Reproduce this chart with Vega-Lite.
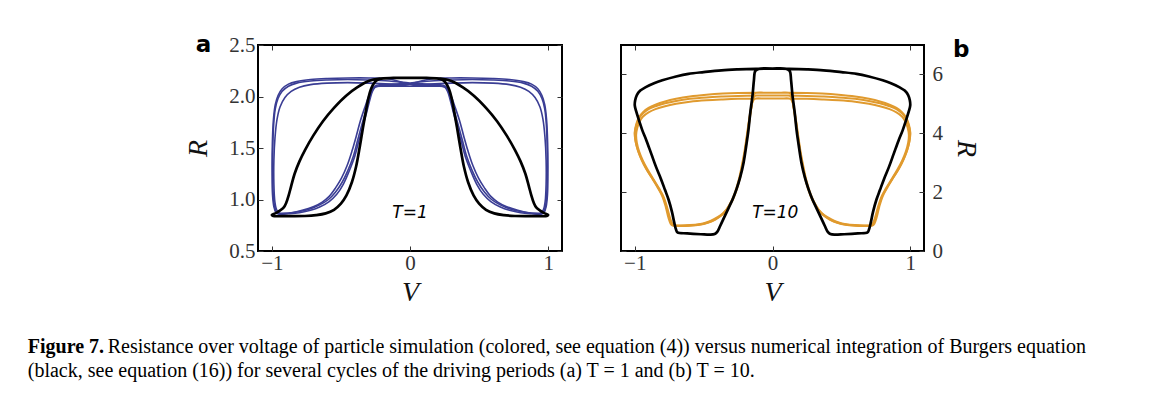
{
  "$schema": "https://vega.github.io/schema/vega-lite/v6.json",
  "background": "white",
  "padding": {"left": 27, "top": 33, "right": 5, "bottom": 5},
  "title": {
    "text": "Resistance over voltage of particle simulation (colored, see equation (4)) versus numerical integration of Burgers equation",
    "orient": "bottom", "anchor": "start", "frame": "bounds",
    "dx": 80, "offset": -44,
    "font": "Liberation Serif", "fontSize": 20, "fontWeight": "normal", "color": "black"
  },
  "datasets": {
    "a_sim": [
      {"c":1,"i":0,"V":0,"R":2.13},{"c":1,"i":1,"V":0.15,"R":2.15},{"c":1,"i":2,"V":0.3,"R":2.16},{"c":1,"i":3,"V":0.45,"R":2.165},{"c":1,"i":4,"V":0.6,"R":2.16},{"c":1,"i":5,"V":0.72,"R":2.15},{"c":1,"i":6,"V":0.82,"R":2.13},{"c":1,"i":7,"V":0.88,"R":2.10},{"c":1,"i":8,"V":0.925,"R":2.05},{"c":1,"i":9,"V":0.955,"R":1.98},{"c":1,"i":10,"V":0.975,"R":1.88},{"c":1,"i":11,"V":0.987,"R":1.72},{"c":1,"i":12,"V":0.993,"R":1.5},{"c":1,"i":13,"V":0.994,"R":1.25},{"c":1,"i":14,"V":0.99,"R":1.05},{"c":1,"i":15,"V":0.98,"R":0.93},{"c":1,"i":16,"V":0.965,"R":0.875},{"c":1,"i":17,"V":0.94,"R":0.862},{"c":1,"i":18,"V":0.88,"R":0.867},{"c":1,"i":19,"V":0.8,"R":0.883},{"c":1,"i":20,"V":0.72,"R":0.91},{"c":1,"i":21,"V":0.65,"R":0.95},{"c":1,"i":22,"V":0.59,"R":1.0},{"c":1,"i":23,"V":0.54,"R":1.07},{"c":1,"i":24,"V":0.49,"R":1.17},{"c":1,"i":25,"V":0.45,"R":1.28},{"c":1,"i":26,"V":0.41,"R":1.42},{"c":1,"i":27,"V":0.38,"R":1.57},{"c":1,"i":28,"V":0.35,"R":1.72},{"c":1,"i":29,"V":0.32,"R":1.86},{"c":1,"i":30,"V":0.295,"R":1.98},{"c":1,"i":31,"V":0.275,"R":2.06},{"c":1,"i":32,"V":0.255,"R":2.10},{"c":1,"i":33,"V":0.22,"R":2.115},{"c":1,"i":34,"V":0.12,"R":2.12},{"c":1,"i":35,"V":0,"R":2.13},
      {"c":1,"i":36,"V":-0.15,"R":2.15},{"c":1,"i":37,"V":-0.3,"R":2.16},{"c":1,"i":38,"V":-0.45,"R":2.165},{"c":1,"i":39,"V":-0.6,"R":2.16},{"c":1,"i":40,"V":-0.72,"R":2.15},{"c":1,"i":41,"V":-0.82,"R":2.13},{"c":1,"i":42,"V":-0.88,"R":2.10},{"c":1,"i":43,"V":-0.925,"R":2.05},{"c":1,"i":44,"V":-0.955,"R":1.98},{"c":1,"i":45,"V":-0.975,"R":1.88},{"c":1,"i":46,"V":-0.987,"R":1.72},{"c":1,"i":47,"V":-0.993,"R":1.5},{"c":1,"i":48,"V":-0.994,"R":1.25},{"c":1,"i":49,"V":-0.99,"R":1.05},{"c":1,"i":50,"V":-0.98,"R":0.93},{"c":1,"i":51,"V":-0.965,"R":0.875},{"c":1,"i":52,"V":-0.94,"R":0.862},{"c":1,"i":53,"V":-0.88,"R":0.867},{"c":1,"i":54,"V":-0.8,"R":0.883},{"c":1,"i":55,"V":-0.72,"R":0.91},{"c":1,"i":56,"V":-0.65,"R":0.95},{"c":1,"i":57,"V":-0.59,"R":1.0},{"c":1,"i":58,"V":-0.54,"R":1.07},{"c":1,"i":59,"V":-0.49,"R":1.17},{"c":1,"i":60,"V":-0.45,"R":1.28},{"c":1,"i":61,"V":-0.41,"R":1.42},{"c":1,"i":62,"V":-0.38,"R":1.57},{"c":1,"i":63,"V":-0.35,"R":1.72},{"c":1,"i":64,"V":-0.32,"R":1.86},{"c":1,"i":65,"V":-0.295,"R":1.98},{"c":1,"i":66,"V":-0.275,"R":2.06},{"c":1,"i":67,"V":-0.255,"R":2.10},{"c":1,"i":68,"V":-0.22,"R":2.115},{"c":1,"i":69,"V":-0.12,"R":2.12},{"c":1,"i":70,"V":0,"R":2.13},

      {"c":2,"i":0,"V":0,"R":2.12},{"c":2,"i":1,"V":0.15,"R":2.17},{"c":2,"i":2,"V":0.3,"R":2.18},{"c":2,"i":3,"V":0.45,"R":2.18},{"c":2,"i":4,"V":0.6,"R":2.175},{"c":2,"i":5,"V":0.72,"R":2.165},{"c":2,"i":6,"V":0.82,"R":2.145},{"c":2,"i":7,"V":0.88,"R":2.12},{"c":2,"i":8,"V":0.925,"R":2.075},{"c":2,"i":9,"V":0.955,"R":2.01},{"c":2,"i":10,"V":0.975,"R":1.92},{"c":2,"i":11,"V":0.988,"R":1.78},{"c":2,"i":12,"V":0.996,"R":1.55},{"c":2,"i":13,"V":0.998,"R":1.25},{"c":2,"i":14,"V":0.995,"R":1.05},{"c":2,"i":15,"V":0.985,"R":0.93},{"c":2,"i":16,"V":0.97,"R":0.872},{"c":2,"i":17,"V":0.95,"R":0.858},{"c":2,"i":18,"V":0.88,"R":0.862},{"c":2,"i":19,"V":0.8,"R":0.872},{"c":2,"i":20,"V":0.72,"R":0.895},{"c":2,"i":21,"V":0.65,"R":0.93},{"c":2,"i":22,"V":0.585,"R":0.98},{"c":2,"i":23,"V":0.53,"R":1.05},{"c":2,"i":24,"V":0.482,"R":1.15},{"c":2,"i":25,"V":0.442,"R":1.27},{"c":2,"i":26,"V":0.402,"R":1.41},{"c":2,"i":27,"V":0.372,"R":1.56},{"c":2,"i":28,"V":0.342,"R":1.71},{"c":2,"i":29,"V":0.313,"R":1.85},{"c":2,"i":30,"V":0.29,"R":1.97},{"c":2,"i":31,"V":0.272,"R":2.05},{"c":2,"i":32,"V":0.252,"R":2.09},{"c":2,"i":33,"V":0.22,"R":2.105},{"c":2,"i":34,"V":0.12,"R":2.11},{"c":2,"i":35,"V":0,"R":2.12},
      {"c":2,"i":36,"V":-0.15,"R":2.17},{"c":2,"i":37,"V":-0.3,"R":2.18},{"c":2,"i":38,"V":-0.45,"R":2.18},{"c":2,"i":39,"V":-0.6,"R":2.175},{"c":2,"i":40,"V":-0.72,"R":2.165},{"c":2,"i":41,"V":-0.82,"R":2.145},{"c":2,"i":42,"V":-0.88,"R":2.12},{"c":2,"i":43,"V":-0.925,"R":2.075},{"c":2,"i":44,"V":-0.955,"R":2.01},{"c":2,"i":45,"V":-0.975,"R":1.92},{"c":2,"i":46,"V":-0.988,"R":1.78},{"c":2,"i":47,"V":-0.996,"R":1.55},{"c":2,"i":48,"V":-0.998,"R":1.25},{"c":2,"i":49,"V":-0.995,"R":1.05},{"c":2,"i":50,"V":-0.985,"R":0.93},{"c":2,"i":51,"V":-0.97,"R":0.872},{"c":2,"i":52,"V":-0.95,"R":0.858},{"c":2,"i":53,"V":-0.88,"R":0.862},{"c":2,"i":54,"V":-0.8,"R":0.872},{"c":2,"i":55,"V":-0.72,"R":0.895},{"c":2,"i":56,"V":-0.65,"R":0.93},{"c":2,"i":57,"V":-0.585,"R":0.98},{"c":2,"i":58,"V":-0.53,"R":1.05},{"c":2,"i":59,"V":-0.482,"R":1.15},{"c":2,"i":60,"V":-0.442,"R":1.27},{"c":2,"i":61,"V":-0.402,"R":1.41},{"c":2,"i":62,"V":-0.372,"R":1.56},{"c":2,"i":63,"V":-0.342,"R":1.71},{"c":2,"i":64,"V":-0.313,"R":1.85},{"c":2,"i":65,"V":-0.29,"R":1.97},{"c":2,"i":66,"V":-0.272,"R":2.05},{"c":2,"i":67,"V":-0.252,"R":2.09},{"c":2,"i":68,"V":-0.22,"R":2.105},{"c":2,"i":69,"V":-0.12,"R":2.11},{"c":2,"i":70,"V":0,"R":2.12},

      {"c":3,"i":0,"V":0,"R":2.1},{"c":3,"i":1,"V":0.15,"R":2.12},{"c":3,"i":2,"V":0.3,"R":2.13},{"c":3,"i":3,"V":0.45,"R":2.135},{"c":3,"i":4,"V":0.6,"R":2.13},{"c":3,"i":5,"V":0.72,"R":2.115},{"c":3,"i":6,"V":0.8,"R":2.09},{"c":3,"i":7,"V":0.86,"R":2.05},{"c":3,"i":8,"V":0.905,"R":1.99},{"c":3,"i":9,"V":0.94,"R":1.9},{"c":3,"i":10,"V":0.962,"R":1.78},{"c":3,"i":11,"V":0.977,"R":1.6},{"c":3,"i":12,"V":0.985,"R":1.38},{"c":3,"i":13,"V":0.985,"R":1.15},{"c":3,"i":14,"V":0.978,"R":0.98},{"c":3,"i":15,"V":0.965,"R":0.9},{"c":3,"i":16,"V":0.945,"R":0.87},{"c":3,"i":17,"V":0.92,"R":0.865},{"c":3,"i":18,"V":0.86,"R":0.872},{"c":3,"i":19,"V":0.78,"R":0.895},{"c":3,"i":20,"V":0.7,"R":0.93},{"c":3,"i":21,"V":0.635,"R":0.975},{"c":3,"i":22,"V":0.585,"R":1.03},{"c":3,"i":23,"V":0.54,"R":1.11},{"c":3,"i":24,"V":0.495,"R":1.21},{"c":3,"i":25,"V":0.455,"R":1.33},{"c":3,"i":26,"V":0.42,"R":1.47},{"c":3,"i":27,"V":0.39,"R":1.61},{"c":3,"i":28,"V":0.36,"R":1.76},{"c":3,"i":29,"V":0.328,"R":1.89},{"c":3,"i":30,"V":0.302,"R":1.99},{"c":3,"i":31,"V":0.28,"R":2.06},{"c":3,"i":32,"V":0.258,"R":2.09},{"c":3,"i":33,"V":0.2,"R":2.1},{"c":3,"i":34,"V":0.1,"R":2.1},{"c":3,"i":35,"V":0,"R":2.1},
      {"c":3,"i":36,"V":-0.15,"R":2.12},{"c":3,"i":37,"V":-0.3,"R":2.13},{"c":3,"i":38,"V":-0.45,"R":2.135},{"c":3,"i":39,"V":-0.6,"R":2.13},{"c":3,"i":40,"V":-0.72,"R":2.115},{"c":3,"i":41,"V":-0.8,"R":2.09},{"c":3,"i":42,"V":-0.86,"R":2.05},{"c":3,"i":43,"V":-0.905,"R":1.99},{"c":3,"i":44,"V":-0.94,"R":1.9},{"c":3,"i":45,"V":-0.962,"R":1.78},{"c":3,"i":46,"V":-0.977,"R":1.6},{"c":3,"i":47,"V":-0.985,"R":1.38},{"c":3,"i":48,"V":-0.985,"R":1.15},{"c":3,"i":49,"V":-0.978,"R":0.98},{"c":3,"i":50,"V":-0.965,"R":0.9},{"c":3,"i":51,"V":-0.945,"R":0.87},{"c":3,"i":52,"V":-0.92,"R":0.865},{"c":3,"i":53,"V":-0.86,"R":0.872},{"c":3,"i":54,"V":-0.78,"R":0.895},{"c":3,"i":55,"V":-0.7,"R":0.93},{"c":3,"i":56,"V":-0.635,"R":0.975},{"c":3,"i":57,"V":-0.585,"R":1.03},{"c":3,"i":58,"V":-0.54,"R":1.11},{"c":3,"i":59,"V":-0.495,"R":1.21},{"c":3,"i":60,"V":-0.455,"R":1.33},{"c":3,"i":61,"V":-0.42,"R":1.47},{"c":3,"i":62,"V":-0.39,"R":1.61},{"c":3,"i":63,"V":-0.36,"R":1.76},{"c":3,"i":64,"V":-0.328,"R":1.89},{"c":3,"i":65,"V":-0.302,"R":1.99},{"c":3,"i":66,"V":-0.28,"R":2.06},{"c":3,"i":67,"V":-0.258,"R":2.09},{"c":3,"i":68,"V":-0.2,"R":2.1},{"c":3,"i":69,"V":-0.1,"R":2.1},{"c":3,"i":70,"V":0,"R":2.1}
    ],
    "a_burg": [
      {"i":0,"V":0,"R":2.18},{"i":1,"V":0.12,"R":2.18},{"i":2,"V":0.22,"R":2.175},{"i":3,"V":0.3,"R":2.15},{"i":4,"V":0.38,"R":2.09},{"i":5,"V":0.46,"R":2.01},{"i":6,"V":0.55,"R":1.89},{"i":7,"V":0.63,"R":1.76},{"i":8,"V":0.7,"R":1.62},{"i":9,"V":0.76,"R":1.48},{"i":10,"V":0.8,"R":1.37},{"i":11,"V":0.835,"R":1.25},{"i":12,"V":0.86,"R":1.13},{"i":13,"V":0.878,"R":1.04},{"i":14,"V":0.895,"R":0.97},{"i":15,"V":0.915,"R":0.92},{"i":16,"V":0.945,"R":0.89},{"i":17,"V":0.975,"R":0.865},{"i":18,"V":1.0,"R":0.85},{"i":19,"V":0.99,"R":0.84},{"i":20,"V":0.93,"R":0.838},{"i":21,"V":0.85,"R":0.838},{"i":22,"V":0.76,"R":0.84},{"i":23,"V":0.68,"R":0.848},{"i":24,"V":0.61,"R":0.865},{"i":25,"V":0.55,"R":0.9},{"i":26,"V":0.5,"R":0.96},{"i":27,"V":0.46,"R":1.04},{"i":28,"V":0.42,"R":1.17},{"i":29,"V":0.39,"R":1.32},{"i":30,"V":0.365,"R":1.5},{"i":31,"V":0.34,"R":1.7},{"i":32,"V":0.32,"R":1.85},{"i":33,"V":0.3,"R":1.99},{"i":34,"V":0.28,"R":2.08},{"i":35,"V":0.255,"R":2.14},{"i":36,"V":0.22,"R":2.17},{"i":37,"V":0.12,"R":2.18},{"i":38,"V":0,"R":2.18},
      {"i":39,"V":-0.12,"R":2.18},{"i":40,"V":-0.22,"R":2.175},{"i":41,"V":-0.3,"R":2.15},{"i":42,"V":-0.38,"R":2.09},{"i":43,"V":-0.46,"R":2.01},{"i":44,"V":-0.55,"R":1.89},{"i":45,"V":-0.63,"R":1.76},{"i":46,"V":-0.7,"R":1.62},{"i":47,"V":-0.76,"R":1.48},{"i":48,"V":-0.8,"R":1.37},{"i":49,"V":-0.835,"R":1.25},{"i":50,"V":-0.86,"R":1.13},{"i":51,"V":-0.878,"R":1.04},{"i":52,"V":-0.895,"R":0.97},{"i":53,"V":-0.915,"R":0.92},{"i":54,"V":-0.945,"R":0.89},{"i":55,"V":-0.975,"R":0.865},{"i":56,"V":-1.0,"R":0.85},{"i":57,"V":-0.99,"R":0.84},{"i":58,"V":-0.93,"R":0.838},{"i":59,"V":-0.85,"R":0.838},{"i":60,"V":-0.76,"R":0.84},{"i":61,"V":-0.68,"R":0.848},{"i":62,"V":-0.61,"R":0.865},{"i":63,"V":-0.55,"R":0.9},{"i":64,"V":-0.5,"R":0.96},{"i":65,"V":-0.46,"R":1.04},{"i":66,"V":-0.42,"R":1.17},{"i":67,"V":-0.39,"R":1.32},{"i":68,"V":-0.365,"R":1.5},{"i":69,"V":-0.34,"R":1.7},{"i":70,"V":-0.32,"R":1.85},{"i":71,"V":-0.3,"R":1.99},{"i":72,"V":-0.28,"R":2.08},{"i":73,"V":-0.255,"R":2.14},{"i":74,"V":-0.22,"R":2.17},{"i":75,"V":-0.12,"R":2.18},{"i":76,"V":0,"R":2.18}
    ],
    "b_sim": [
      {"c":1,"i":0,"V":0,"R":5.28},{"c":1,"i":1,"V":0.12,"R":5.28},{"c":1,"i":2,"V":0.25,"R":5.27},{"c":1,"i":3,"V":0.36,"R":5.25},{"c":1,"i":4,"V":0.48,"R":5.22},{"c":1,"i":5,"V":0.6,"R":5.17},{"c":1,"i":6,"V":0.7,"R":5.1},{"c":1,"i":7,"V":0.78,"R":5.02},{"c":1,"i":8,"V":0.85,"R":4.92},{"c":1,"i":9,"V":0.9,"R":4.82},{"c":1,"i":10,"V":0.94,"R":4.68},{"c":1,"i":11,"V":0.97,"R":4.5},{"c":1,"i":12,"V":0.99,"R":4.25},{"c":1,"i":13,"V":1.0,"R":4.0},{"c":1,"i":14,"V":0.993,"R":3.7},{"c":1,"i":15,"V":0.975,"R":3.4},{"c":1,"i":16,"V":0.95,"R":3.1},{"c":1,"i":17,"V":0.915,"R":2.78},{"c":1,"i":18,"V":0.87,"R":2.45},{"c":1,"i":19,"V":0.83,"R":2.15},{"c":1,"i":20,"V":0.795,"R":1.85},{"c":1,"i":21,"V":0.77,"R":1.5},{"c":1,"i":22,"V":0.75,"R":1.15},{"c":1,"i":23,"V":0.735,"R":0.95},{"c":1,"i":24,"V":0.72,"R":0.87},{"c":1,"i":25,"V":0.68,"R":0.86},{"c":1,"i":26,"V":0.6,"R":0.87},{"c":1,"i":27,"V":0.53,"R":0.9},{"c":1,"i":28,"V":0.47,"R":0.97},{"c":1,"i":29,"V":0.42,"R":1.07},{"c":1,"i":30,"V":0.37,"R":1.22},{"c":1,"i":31,"V":0.33,"R":1.42},{"c":1,"i":32,"V":0.295,"R":1.7},{"c":1,"i":33,"V":0.265,"R":2.05},{"c":1,"i":34,"V":0.24,"R":2.45},{"c":1,"i":35,"V":0.22,"R":2.9},{"c":1,"i":36,"V":0.2,"R":3.4},{"c":1,"i":37,"V":0.185,"R":3.9},{"c":1,"i":38,"V":0.17,"R":4.4},{"c":1,"i":39,"V":0.155,"R":4.85},{"c":1,"i":40,"V":0.142,"R":5.15},{"c":1,"i":41,"V":0.128,"R":5.27},{"c":1,"i":42,"V":0.06,"R":5.28},{"c":1,"i":43,"V":0,"R":5.28},
      {"c":1,"i":44,"V":-0.12,"R":5.28},{"c":1,"i":45,"V":-0.25,"R":5.27},{"c":1,"i":46,"V":-0.36,"R":5.25},{"c":1,"i":47,"V":-0.48,"R":5.22},{"c":1,"i":48,"V":-0.6,"R":5.17},{"c":1,"i":49,"V":-0.7,"R":5.1},{"c":1,"i":50,"V":-0.78,"R":5.02},{"c":1,"i":51,"V":-0.85,"R":4.92},{"c":1,"i":52,"V":-0.9,"R":4.82},{"c":1,"i":53,"V":-0.94,"R":4.68},{"c":1,"i":54,"V":-0.97,"R":4.5},{"c":1,"i":55,"V":-0.99,"R":4.25},{"c":1,"i":56,"V":-1.0,"R":4.0},{"c":1,"i":57,"V":-0.993,"R":3.7},{"c":1,"i":58,"V":-0.975,"R":3.4},{"c":1,"i":59,"V":-0.95,"R":3.1},{"c":1,"i":60,"V":-0.915,"R":2.78},{"c":1,"i":61,"V":-0.87,"R":2.45},{"c":1,"i":62,"V":-0.83,"R":2.15},{"c":1,"i":63,"V":-0.795,"R":1.85},{"c":1,"i":64,"V":-0.77,"R":1.5},{"c":1,"i":65,"V":-0.75,"R":1.15},{"c":1,"i":66,"V":-0.735,"R":0.95},{"c":1,"i":67,"V":-0.72,"R":0.87},{"c":1,"i":68,"V":-0.68,"R":0.86},{"c":1,"i":69,"V":-0.6,"R":0.87},{"c":1,"i":70,"V":-0.53,"R":0.9},{"c":1,"i":71,"V":-0.47,"R":0.97},{"c":1,"i":72,"V":-0.42,"R":1.07},{"c":1,"i":73,"V":-0.37,"R":1.22},{"c":1,"i":74,"V":-0.33,"R":1.42},{"c":1,"i":75,"V":-0.295,"R":1.7},{"c":1,"i":76,"V":-0.265,"R":2.05},{"c":1,"i":77,"V":-0.24,"R":2.45},{"c":1,"i":78,"V":-0.22,"R":2.9},{"c":1,"i":79,"V":-0.2,"R":3.4},{"c":1,"i":80,"V":-0.185,"R":3.9},{"c":1,"i":81,"V":-0.17,"R":4.4},{"c":1,"i":82,"V":-0.155,"R":4.85},{"c":1,"i":83,"V":-0.142,"R":5.15},{"c":1,"i":84,"V":-0.128,"R":5.27},{"c":1,"i":85,"V":-0.06,"R":5.28},{"c":1,"i":86,"V":0,"R":5.28},

      {"c":2,"i":0,"V":0,"R":5.38},{"c":2,"i":1,"V":0.12,"R":5.38},{"c":2,"i":2,"V":0.25,"R":5.37},{"c":2,"i":3,"V":0.36,"R":5.35},{"c":2,"i":4,"V":0.48,"R":5.31},{"c":2,"i":5,"V":0.6,"R":5.25},{"c":2,"i":6,"V":0.7,"R":5.17},{"c":2,"i":7,"V":0.78,"R":5.08},{"c":2,"i":8,"V":0.85,"R":4.97},{"c":2,"i":9,"V":0.9,"R":4.86},{"c":2,"i":10,"V":0.94,"R":4.72},{"c":2,"i":11,"V":0.97,"R":4.54},{"c":2,"i":12,"V":0.99,"R":4.3},{"c":2,"i":13,"V":1.0,"R":4.05},{"c":2,"i":14,"V":0.995,"R":3.75},{"c":2,"i":15,"V":0.98,"R":3.45},{"c":2,"i":16,"V":0.955,"R":3.15},{"c":2,"i":17,"V":0.92,"R":2.82},{"c":2,"i":18,"V":0.875,"R":2.48},{"c":2,"i":19,"V":0.835,"R":2.17},{"c":2,"i":20,"V":0.8,"R":1.86},{"c":2,"i":21,"V":0.775,"R":1.5},{"c":2,"i":22,"V":0.755,"R":1.12},{"c":2,"i":23,"V":0.74,"R":0.93},{"c":2,"i":24,"V":0.725,"R":0.86},{"c":2,"i":25,"V":0.68,"R":0.85},{"c":2,"i":26,"V":0.6,"R":0.86},{"c":2,"i":27,"V":0.53,"R":0.89},{"c":2,"i":28,"V":0.47,"R":0.96},{"c":2,"i":29,"V":0.415,"R":1.07},{"c":2,"i":30,"V":0.365,"R":1.23},{"c":2,"i":31,"V":0.325,"R":1.44},{"c":2,"i":32,"V":0.29,"R":1.72},{"c":2,"i":33,"V":0.26,"R":2.08},{"c":2,"i":34,"V":0.236,"R":2.48},{"c":2,"i":35,"V":0.216,"R":2.93},{"c":2,"i":36,"V":0.197,"R":3.43},{"c":2,"i":37,"V":0.182,"R":3.93},{"c":2,"i":38,"V":0.167,"R":4.43},{"c":2,"i":39,"V":0.152,"R":4.9},{"c":2,"i":40,"V":0.14,"R":5.22},{"c":2,"i":41,"V":0.128,"R":5.36},{"c":2,"i":42,"V":0.06,"R":5.38},{"c":2,"i":43,"V":0,"R":5.38},
      {"c":2,"i":44,"V":-0.12,"R":5.38},{"c":2,"i":45,"V":-0.25,"R":5.37},{"c":2,"i":46,"V":-0.36,"R":5.35},{"c":2,"i":47,"V":-0.48,"R":5.31},{"c":2,"i":48,"V":-0.6,"R":5.25},{"c":2,"i":49,"V":-0.7,"R":5.17},{"c":2,"i":50,"V":-0.78,"R":5.08},{"c":2,"i":51,"V":-0.85,"R":4.97},{"c":2,"i":52,"V":-0.9,"R":4.86},{"c":2,"i":53,"V":-0.94,"R":4.72},{"c":2,"i":54,"V":-0.97,"R":4.54},{"c":2,"i":55,"V":-0.99,"R":4.3},{"c":2,"i":56,"V":-1.0,"R":4.05},{"c":2,"i":57,"V":-0.995,"R":3.75},{"c":2,"i":58,"V":-0.98,"R":3.45},{"c":2,"i":59,"V":-0.955,"R":3.15},{"c":2,"i":60,"V":-0.92,"R":2.82},{"c":2,"i":61,"V":-0.875,"R":2.48},{"c":2,"i":62,"V":-0.835,"R":2.17},{"c":2,"i":63,"V":-0.8,"R":1.86},{"c":2,"i":64,"V":-0.775,"R":1.5},{"c":2,"i":65,"V":-0.755,"R":1.12},{"c":2,"i":66,"V":-0.74,"R":0.93},{"c":2,"i":67,"V":-0.725,"R":0.86},{"c":2,"i":68,"V":-0.68,"R":0.85},{"c":2,"i":69,"V":-0.6,"R":0.86},{"c":2,"i":70,"V":-0.53,"R":0.89},{"c":2,"i":71,"V":-0.47,"R":0.96},{"c":2,"i":72,"V":-0.415,"R":1.07},{"c":2,"i":73,"V":-0.365,"R":1.23},{"c":2,"i":74,"V":-0.325,"R":1.44},{"c":2,"i":75,"V":-0.29,"R":1.72},{"c":2,"i":76,"V":-0.26,"R":2.08},{"c":2,"i":77,"V":-0.236,"R":2.48},{"c":2,"i":78,"V":-0.216,"R":2.93},{"c":2,"i":79,"V":-0.197,"R":3.43},{"c":2,"i":80,"V":-0.182,"R":3.93},{"c":2,"i":81,"V":-0.167,"R":4.43},{"c":2,"i":82,"V":-0.152,"R":4.9},{"c":2,"i":83,"V":-0.14,"R":5.22},{"c":2,"i":84,"V":-0.128,"R":5.36},{"c":2,"i":85,"V":-0.06,"R":5.38},{"c":2,"i":86,"V":0,"R":5.38},

      {"c":3,"i":0,"V":0,"R":5.18},{"c":3,"i":1,"V":0.12,"R":5.18},{"c":3,"i":2,"V":0.25,"R":5.17},{"c":3,"i":3,"V":0.36,"R":5.15},{"c":3,"i":4,"V":0.48,"R":5.12},{"c":3,"i":5,"V":0.6,"R":5.07},{"c":3,"i":6,"V":0.7,"R":5.0},{"c":3,"i":7,"V":0.78,"R":4.92},{"c":3,"i":8,"V":0.85,"R":4.82},{"c":3,"i":9,"V":0.9,"R":4.71},{"c":3,"i":10,"V":0.94,"R":4.57},{"c":3,"i":11,"V":0.965,"R":4.4},{"c":3,"i":12,"V":0.982,"R":4.18},{"c":3,"i":13,"V":0.99,"R":3.95},{"c":3,"i":14,"V":0.985,"R":3.68},{"c":3,"i":15,"V":0.968,"R":3.38},{"c":3,"i":16,"V":0.942,"R":3.08},{"c":3,"i":17,"V":0.905,"R":2.75},{"c":3,"i":18,"V":0.862,"R":2.42},{"c":3,"i":19,"V":0.823,"R":2.12},{"c":3,"i":20,"V":0.79,"R":1.83},{"c":3,"i":21,"V":0.765,"R":1.48},{"c":3,"i":22,"V":0.745,"R":1.14},{"c":3,"i":23,"V":0.73,"R":0.95},{"c":3,"i":24,"V":0.715,"R":0.88},{"c":3,"i":25,"V":0.675,"R":0.87},{"c":3,"i":26,"V":0.6,"R":0.88},{"c":3,"i":27,"V":0.535,"R":0.91},{"c":3,"i":28,"V":0.475,"R":0.98},{"c":3,"i":29,"V":0.425,"R":1.08},{"c":3,"i":30,"V":0.375,"R":1.22},{"c":3,"i":31,"V":0.335,"R":1.41},{"c":3,"i":32,"V":0.3,"R":1.68},{"c":3,"i":33,"V":0.27,"R":2.02},{"c":3,"i":34,"V":0.245,"R":2.42},{"c":3,"i":35,"V":0.224,"R":2.87},{"c":3,"i":36,"V":0.204,"R":3.37},{"c":3,"i":37,"V":0.188,"R":3.87},{"c":3,"i":38,"V":0.173,"R":4.37},{"c":3,"i":39,"V":0.158,"R":4.8},{"c":3,"i":40,"V":0.145,"R":5.07},{"c":3,"i":41,"V":0.13,"R":5.17},{"c":3,"i":42,"V":0.06,"R":5.18},{"c":3,"i":43,"V":0,"R":5.18},
      {"c":3,"i":44,"V":-0.12,"R":5.18},{"c":3,"i":45,"V":-0.25,"R":5.17},{"c":3,"i":46,"V":-0.36,"R":5.15},{"c":3,"i":47,"V":-0.48,"R":5.12},{"c":3,"i":48,"V":-0.6,"R":5.07},{"c":3,"i":49,"V":-0.7,"R":5.0},{"c":3,"i":50,"V":-0.78,"R":4.92},{"c":3,"i":51,"V":-0.85,"R":4.82},{"c":3,"i":52,"V":-0.9,"R":4.71},{"c":3,"i":53,"V":-0.94,"R":4.57},{"c":3,"i":54,"V":-0.965,"R":4.4},{"c":3,"i":55,"V":-0.982,"R":4.18},{"c":3,"i":56,"V":-0.99,"R":3.95},{"c":3,"i":57,"V":-0.985,"R":3.68},{"c":3,"i":58,"V":-0.968,"R":3.38},{"c":3,"i":59,"V":-0.942,"R":3.08},{"c":3,"i":60,"V":-0.905,"R":2.75},{"c":3,"i":61,"V":-0.862,"R":2.42},{"c":3,"i":62,"V":-0.823,"R":2.12},{"c":3,"i":63,"V":-0.79,"R":1.83},{"c":3,"i":64,"V":-0.765,"R":1.48},{"c":3,"i":65,"V":-0.745,"R":1.14},{"c":3,"i":66,"V":-0.73,"R":0.95},{"c":3,"i":67,"V":-0.715,"R":0.88},{"c":3,"i":68,"V":-0.675,"R":0.87},{"c":3,"i":69,"V":-0.6,"R":0.88},{"c":3,"i":70,"V":-0.535,"R":0.91},{"c":3,"i":71,"V":-0.475,"R":0.98},{"c":3,"i":72,"V":-0.425,"R":1.08},{"c":3,"i":73,"V":-0.375,"R":1.22},{"c":3,"i":74,"V":-0.335,"R":1.41},{"c":3,"i":75,"V":-0.3,"R":1.68},{"c":3,"i":76,"V":-0.27,"R":2.02},{"c":3,"i":77,"V":-0.245,"R":2.42},{"c":3,"i":78,"V":-0.224,"R":2.87},{"c":3,"i":79,"V":-0.204,"R":3.37},{"c":3,"i":80,"V":-0.188,"R":3.87},{"c":3,"i":81,"V":-0.173,"R":4.37},{"c":3,"i":82,"V":-0.158,"R":4.8},{"c":3,"i":83,"V":-0.145,"R":5.07},{"c":3,"i":84,"V":-0.13,"R":5.17},{"c":3,"i":85,"V":-0.06,"R":5.18},{"c":3,"i":86,"V":0,"R":5.18}
    ],
    "b_burg": [
      {"i":0,"V":0,"R":6.2},{"i":1,"V":0.12,"R":6.19},{"i":2,"V":0.25,"R":6.17},{"i":3,"V":0.37,"R":6.14},{"i":4,"V":0.5,"R":6.08},{"i":5,"V":0.61,"R":6.02},{"i":6,"V":0.7,"R":5.93},{"i":7,"V":0.8,"R":5.8},{"i":8,"V":0.86,"R":5.7},{"i":9,"V":0.92,"R":5.57},{"i":10,"V":0.96,"R":5.45},{"i":11,"V":0.985,"R":5.3},{"i":12,"V":0.997,"R":5.12},{"i":13,"V":1.0,"R":4.95},{"i":14,"V":0.99,"R":4.75},{"i":15,"V":0.97,"R":4.45},{"i":16,"V":0.945,"R":4.1},{"i":17,"V":0.915,"R":3.75},{"i":18,"V":0.88,"R":3.3},{"i":19,"V":0.845,"R":2.85},{"i":20,"V":0.81,"R":2.45},{"i":21,"V":0.78,"R":2.07},{"i":22,"V":0.755,"R":1.75},{"i":23,"V":0.73,"R":1.33},{"i":24,"V":0.715,"R":1.0},{"i":25,"V":0.7,"R":0.72},{"i":26,"V":0.69,"R":0.63},{"i":27,"V":0.62,"R":0.6},{"i":28,"V":0.52,"R":0.57},{"i":29,"V":0.45,"R":0.555},{"i":30,"V":0.42,"R":0.58},{"i":31,"V":0.4,"R":0.66},{"i":32,"V":0.38,"R":0.85},{"i":33,"V":0.35,"R":1.15},{"i":34,"V":0.32,"R":1.45},{"i":35,"V":0.29,"R":1.75},{"i":36,"V":0.26,"R":2.12},{"i":37,"V":0.235,"R":2.5},{"i":38,"V":0.21,"R":3.0},{"i":39,"V":0.19,"R":3.6},{"i":40,"V":0.175,"R":4.1},{"i":41,"V":0.16,"R":4.75},{"i":42,"V":0.145,"R":5.29},{"i":43,"V":0.135,"R":5.8},{"i":44,"V":0.125,"R":6.12},{"i":45,"V":0.1,"R":6.19},{"i":46,"V":0,"R":6.2},
      {"i":47,"V":-0.12,"R":6.19},{"i":48,"V":-0.25,"R":6.17},{"i":49,"V":-0.37,"R":6.14},{"i":50,"V":-0.5,"R":6.08},{"i":51,"V":-0.61,"R":6.02},{"i":52,"V":-0.7,"R":5.93},{"i":53,"V":-0.8,"R":5.8},{"i":54,"V":-0.86,"R":5.7},{"i":55,"V":-0.92,"R":5.57},{"i":56,"V":-0.96,"R":5.45},{"i":57,"V":-0.985,"R":5.3},{"i":58,"V":-0.997,"R":5.12},{"i":59,"V":-1.0,"R":4.95},{"i":60,"V":-0.99,"R":4.75},{"i":61,"V":-0.97,"R":4.45},{"i":62,"V":-0.945,"R":4.1},{"i":63,"V":-0.915,"R":3.75},{"i":64,"V":-0.88,"R":3.3},{"i":65,"V":-0.845,"R":2.85},{"i":66,"V":-0.81,"R":2.45},{"i":67,"V":-0.78,"R":2.07},{"i":68,"V":-0.755,"R":1.75},{"i":69,"V":-0.73,"R":1.33},{"i":70,"V":-0.715,"R":1.0},{"i":71,"V":-0.7,"R":0.72},{"i":72,"V":-0.69,"R":0.63},{"i":73,"V":-0.62,"R":0.6},{"i":74,"V":-0.52,"R":0.57},{"i":75,"V":-0.45,"R":0.555},{"i":76,"V":-0.42,"R":0.58},{"i":77,"V":-0.4,"R":0.66},{"i":78,"V":-0.38,"R":0.85},{"i":79,"V":-0.35,"R":1.15},{"i":80,"V":-0.32,"R":1.45},{"i":81,"V":-0.29,"R":1.75},{"i":82,"V":-0.26,"R":2.12},{"i":83,"V":-0.235,"R":2.5},{"i":84,"V":-0.21,"R":3.0},{"i":85,"V":-0.19,"R":3.6},{"i":86,"V":-0.175,"R":4.1},{"i":87,"V":-0.16,"R":4.75},{"i":88,"V":-0.145,"R":5.29},{"i":89,"V":-0.135,"R":5.8},{"i":90,"V":-0.125,"R":6.12},{"i":91,"V":-0.1,"R":6.19},{"i":92,"V":0,"R":6.2}
    ],
    "notes": [
      {"p":"a","V":0,"R":0.87,"t":"T=1"},
      {"p":"b","V":0.02,"R":1.3,"t":"T=10"}
    ]
  },
  "vconcat": [
    {
      "title": {
        "text": "Figure 7.",
        "subtitle": "(black, see equation (16)) for several cycles of the driving periods (a) T = 1 and (b) T = 10.",
        "orient": "bottom", "anchor": "start", "frame": "bounds",
        "dx": -156, "offset": 30,
        "font": "Liberation Serif", "fontSize": 20, "fontWeight": "bold", "color": "black",
        "subtitleFont": "Liberation Serif", "subtitleFontSize": 20, "subtitleColor": "black",
        "subtitlePadding": 4
      },
      "spacing": 55,
      "hconcat": [
        {
          "width": 304, "height": 206,
          "title": {"text": "a", "anchor": "start", "frame": "bounds", "font": "DejaVu Sans", "fontSize": 23, "fontWeight": "bold", "color": "black", "baseline": "alphabetic", "dx": 11, "offset": -41},
          "layer": [
            {
              "data": {"name": "a_sim"},
              "mark": {"type": "line", "color": "#3a3d94", "strokeWidth": 1.6, "interpolate": "catmull-rom"},
              "encoding": {
                "x": {"field": "V", "type": "quantitative", "scale": {"domain": [-1.1, 1.1], "nice": false, "zero": false},
                      "axis": {"orient": "bottom", "values": [-1, 0, 1], "title": "V", "labelPadding": 6, "titlePadding": 5}},
                "y": {"field": "R", "type": "quantitative", "scale": {"domain": [0.5, 2.5], "nice": false, "zero": false},
                      "axis": {"orient": "left", "values": [0.5, 1, 1.5, 2, 2.5], "format": ".1f", "title": "R", "labelPadding": 8, "titlePadding": 16}},
                "order": {"field": "i", "type": "quantitative"},
                "detail": {"field": "c", "type": "nominal"}
              }
            },
            {
              "data": {"name": "a_burg"},
              "mark": {"type": "line", "color": "black", "strokeWidth": 2.7, "interpolate": "catmull-rom"},
              "encoding": {
                "x": {"field": "V", "type": "quantitative", "scale": {"domain": [-1.1, 1.1], "nice": false, "zero": false},
                      "axis": {"orient": "top", "values": [-1, 0, 1], "labels": false, "title": null}},
                "y": {"field": "R", "type": "quantitative", "scale": {"domain": [0.5, 2.5], "nice": false, "zero": false},
                      "axis": {"orient": "right", "values": [0.5, 1, 1.5, 2, 2.5], "labels": false, "title": null}},
                "order": {"field": "i", "type": "quantitative"}
              }
            },
            {
              "data": {"name": "notes"},
              "transform": [{"filter": "datum.p === 'a'"}],
              "mark": {"type": "text", "font": "DejaVu Sans", "fontStyle": "italic", "fontSize": 17, "color": "black", "align": "center", "baseline": "middle"},
              "encoding": {
                "x": {"field": "V", "type": "quantitative", "scale": {"domain": [-1.1, 1.1], "nice": false, "zero": false}, "axis": null},
                "y": {"field": "R", "type": "quantitative", "scale": {"domain": [0.5, 2.5], "nice": false, "zero": false}, "axis": null},
                "text": {"field": "t"}
              }
            }
          ],
          "resolve": {"axis": {"x": "independent", "y": "independent"}}
        },
        {
          "width": 303, "height": 206,
          "title": {"text": "b", "anchor": "end", "frame": "bounds", "font": "DejaVu Sans", "fontSize": 23, "fontWeight": "bold", "color": "black", "baseline": "alphabetic", "dx": -10, "offset": -35},
          "layer": [
            {
              "data": {"name": "b_sim"},
              "mark": {"type": "line", "color": "#e09a2e", "strokeWidth": 2, "interpolate": "catmull-rom"},
              "encoding": {
                "x": {"field": "V", "type": "quantitative", "scale": {"domain": [-1.1, 1.1], "nice": false, "zero": false},
                      "axis": {"orient": "bottom", "values": [-1, 0, 1], "title": "V", "labelPadding": 6, "titlePadding": 5}},
                "y": {"field": "R", "type": "quantitative", "scale": {"domain": [0, 7], "nice": false, "zero": false},
                      "axis": {"orient": "left", "values": [0, 2, 4, 6], "labels": false, "title": null}},
                "order": {"field": "i", "type": "quantitative"},
                "detail": {"field": "c", "type": "nominal"}
              }
            },
            {
              "data": {"name": "b_burg"},
              "mark": {"type": "line", "color": "black", "strokeWidth": 2.7, "interpolate": "catmull-rom"},
              "encoding": {
                "x": {"field": "V", "type": "quantitative", "scale": {"domain": [-1.1, 1.1], "nice": false, "zero": false},
                      "axis": {"orient": "top", "values": [-1, 0, 1], "labels": false, "title": null}},
                "y": {"field": "R", "type": "quantitative", "scale": {"domain": [0, 7], "nice": false, "zero": false},
                      "axis": {"orient": "right", "values": [0, 2, 4, 6], "format": "d", "title": "R", "labelPadding": 13, "titlePadding": 9}},
                "order": {"field": "i", "type": "quantitative"}
              }
            },
            {
              "data": {"name": "notes"},
              "transform": [{"filter": "datum.p === 'b'"}],
              "mark": {"type": "text", "font": "DejaVu Sans", "fontStyle": "italic", "fontSize": 17, "color": "black", "align": "center", "baseline": "middle"},
              "encoding": {
                "x": {"field": "V", "type": "quantitative", "scale": {"domain": [-1.1, 1.1], "nice": false, "zero": false}, "axis": null},
                "y": {"field": "R", "type": "quantitative", "scale": {"domain": [0, 7], "nice": false, "zero": false}, "axis": null},
                "text": {"field": "t"}
              }
            }
          ],
          "resolve": {"axis": {"x": "independent", "y": "independent"}}
        }
      ]
    }
  ],
  "config": {
    "view": {"stroke": "black", "strokeWidth": 2},
    "axis": {
      "grid": false, "domain": false, "ticks": true, "tickSize": -5, "tickColor": "#333", "tickWidth": 1,
      "labelFont": "Liberation Serif", "labelFontSize": 21, "labelColor": "#333",
      "titleFont": "Liberation Serif", "titleFontStyle": "italic", "titleFontWeight": "normal", "titleFontSize": 28, "titleColor": "#111"
    }
  }
}
